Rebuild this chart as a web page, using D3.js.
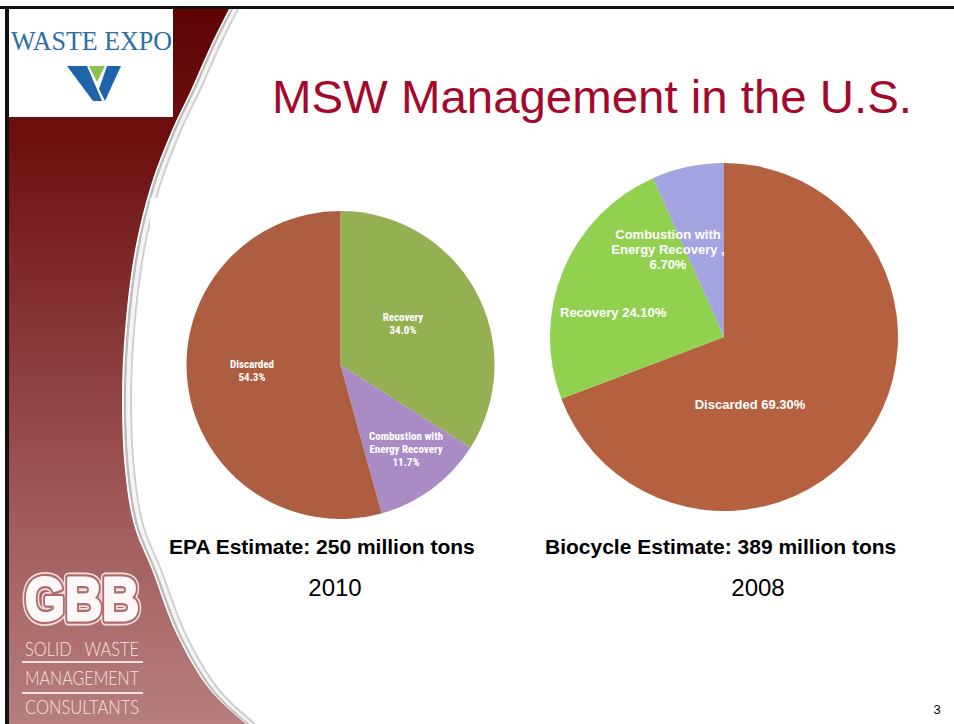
<!DOCTYPE html>
<html><head><meta charset="utf-8">
<script src="https://cdn.jsdelivr.net/npm/d3@7"></script>
<style>html,body{margin:0;padding:0;background:#fff;}svg{display:block;}</style>
</head><body>
<script>
// ---- data ----
const epaCategories = ["Recovery", "Combustion with Energy Recovery", "Discarded"];
const epaValues = [34.0, 11.7, 54.3];
const epaLabels = [["Recovery", "34.0%"], ["Combustion with", "Energy Recovery", "11.7%"], ["Discarded", "54.3%"]];
const bioCategories = ["Discarded", "Recovery", "Combustion with Energy Recovery"];
const bioValues = [69.3, 24.1, 6.7];
const bioLabels = [["Discarded 69.30%"], ["Recovery 24.10%"], ["Combustion with", "Energy Recovery ,", "6.70%"]];
const captions = ["EPA Estimate: 250 million tons", "Biocycle Estimate: 389 million tons"];
const years = ["2010", "2008"];
const title = "MSW Management in the U.S.";

// ---- layout / style ----
const W = 954, H = 724;
const svg = d3.select("body").append("svg").attr("width", W).attr("height", H);
const defs = svg.append("defs");
const grad = defs.append("linearGradient").attr("id", "band").attr("x1", 0).attr("y1", 0).attr("x2", 0).attr("y2", 1);
[[0, "#5e0404"], [0.18, "#6d0f0f"], [0.48, "#8a3a3a"], [0.72, "#a25c5c"], [1, "#b67e7e"]]
  .forEach(([o, c]) => grad.append("stop").attr("offset", o).attr("stop-color", c));
defs.append("clipPath").attr("id", "pageClip").append("rect").attr("x", 9).attr("y", 9).attr("width", W - 9).attr("height", H - 9);

svg.append("rect").attr("width", W).attr("height", H).attr("fill", "#fff");

// left decorative band
const edge = [[229, 9], [211, 45], [191, 90], [172, 130], [151, 185], [135, 250], [125, 330], [122, 400], [125, 470], [134, 525], [152, 570], [177, 635], [210, 690], [246, 724]];
const edgeLine = d3.line().curve(d3.curveCatmullRom);
const g0 = svg.append("g").attr("clip-path", "url(#pageClip)");
g0.append("path")
  .attr("d", "M9,9L" + edgeLine(edge).slice(1) + "L9,724Z")
  .attr("fill", "url(#band)");
[[3, "#bdbdbd", 2.5], [6, "#f4f4f4", 3], [9, "#cfcfcf", 2]].forEach(([dx, c, w]) => {
  g0.append("path").attr("d", edgeLine(edge.map(p => [p[0] + dx, p[1]])))
    .attr("fill", "none").attr("stroke", c).attr("stroke-width", w);
});
// white chart background rectangle covering part of the band highlight
svg.append("rect").attr("x", 150).attr("y", 198).attr("width", 360).attr("height", 339).attr("fill", "#fff");

// page border
svg.append("rect").attr("x", 0).attr("y", 6).attr("width", W).attr("height", 3).attr("fill", "#111");
svg.append("rect").attr("x", 5).attr("y", 6).attr("width", 4).attr("height", H - 6).attr("fill", "#111");

// Waste Expo logo
svg.append("rect").attr("x", 9).attr("y", 9).attr("width", 164).attr("height", 108).attr("fill", "#fff");
svg.append("text").attr("x", 11).attr("y", 50).attr("textLength", 161).attr("lengthAdjust", "spacingAndGlyphs")
  .attr("font-family", "'Liberation Serif','DejaVu Serif',serif").attr("font-size", 27).attr("fill", "#2c6ea6")
  .text("WASTE EXPO");
const wl = svg.append("g");
wl.append("polygon").attr("points", "67,66 87,66 102,101 93,101").attr("fill", "#1f64a8");
wl.append("polygon").attr("points", "89,66 105,66 97,82").attr("fill", "#8cc152");
wl.append("polygon").attr("points", "107,66 121,66 105,101 99,89").attr("fill", "#1f64a8");

// GBB logo
const gbb = svg.append("g");
const gbbText = (stroke, sw, fill) => gbb.append("text").attr("x", 25).attr("y", 620)
  .attr("textLength", 114).attr("lengthAdjust", "spacingAndGlyphs")
  .attr("font-family", "'Liberation Sans','DejaVu Sans',sans-serif").attr("font-weight", "bold").attr("font-size", 62)
  .attr("fill", fill).attr("stroke", stroke).attr("stroke-width", sw).attr("stroke-linejoin", "round").text("GBB");
gbbText("#f3dede", 11, "#f3dede");
gbbText("#ad6c6c", 7.5, "#ad6c6c");
gbbText("#fdf7f7", 3, "#fdf7f7");
const sub = [["SOLID   WASTE", 656], ["MANAGEMENT", 685], ["CONSULTANTS", 714]];
sub.forEach(([t, y]) => svg.append("text").attr("x", 25).attr("y", y).attr("textLength", 114).attr("lengthAdjust", "spacingAndGlyphs")
  .attr("font-family", "Lato,'Open Sans',sans-serif").attr("font-weight", 300).attr("font-size", 19)
  .attr("fill", "#f6e2dc").attr("xml:space", "preserve").style("white-space", "pre").text(t));
[662, 693].forEach(y => svg.append("line").attr("x1", 22).attr("x2", 143).attr("y1", y).attr("y2", y)
  .attr("stroke", "#f6e2dc").attr("stroke-width", 2));

// title
svg.append("text").attr("x", 272).attr("y", 113).attr("textLength", 640).attr("lengthAdjust", "spacingAndGlyphs")
  .attr("font-family", "'Liberation Sans',Arial,sans-serif").attr("font-size", 46).attr("fill", "#a3092b").text(title);

// ---- pies ----
const pie = d3.pie().sort(null).value(d => d);

// EPA pie
const epaColor = d3.scaleOrdinal().domain(epaCategories).range(["#94b052", "#a98cc4", "#ad5e40"]);
const epaR = 154;
const g1 = svg.append("g").attr("transform", "translate(340.5,365)");
const arc1 = d3.arc().innerRadius(0).outerRadius(epaR);
const epaArcs = pie(epaValues);
g1.selectAll("path").data(epaArcs).join("path").attr("d", arc1).attr("fill", (d, i) => epaColor(epaCategories[i]));
// label placement: [radius factor, dx, dy]
const epaLabelPos = [[0.5, -5, -7], [0.66, 5, -7], [0.58, 0, -9]];
const epaFont = "'Liberation Sans Narrow','Roboto Condensed',Roboto,sans-serif";
epaArcs.forEach((a, i) => {
  const [f, dx, dy] = epaLabelPos[i];
  const c = d3.arc().innerRadius(epaR * f).outerRadius(epaR * f).centroid(a);
  const t = g1.append("text").attr("text-anchor", "middle").attr("font-family", epaFont).attr("font-weight", "bold")
    .attr("font-size", 11).attr("fill", "#fff");
  epaLabels[i].forEach((line, k) => t.append("tspan").attr("x", c[0] + dx).attr("y", c[1] + dy + k * 13).text(line));
});

// Biocycle pie
const bioColor = d3.scaleOrdinal().domain(bioCategories).range(["#b5603f", "#92d050", "#a4a4e0"]);
const bioR = 174;
const g2 = svg.append("g").attr("transform", "translate(724,337)");
const arc2 = d3.arc().innerRadius(0).outerRadius(bioR);
const bioArcs = pie(bioValues);
g2.selectAll("path").data(bioArcs).join("path").attr("d", arc2).attr("fill", (d, i) => bioColor(bioCategories[i]));
// label placement: [x, y(first baseline), anchor] relative to pie centre
const bioLabelPos = [[26, 72, "middle"], [-164, -20, "start"], [-56, -98, "middle"]];
bioArcs.forEach((a, i) => {
  const [x, y, anchor] = bioLabelPos[i];
  const t = g2.append("text").attr("text-anchor", anchor).attr("font-family", "'Liberation Sans',Arial,sans-serif")
    .attr("font-weight", "bold").attr("font-size", 13).attr("fill", "#fff");
  bioLabels[i].forEach((line, k) => t.append("tspan").attr("x", x).attr("y", y + k * 15).text(line));
});

// captions
const capX = [169, 545];
captions.forEach((c, i) => svg.append("text").attr("x", capX[i]).attr("y", 554)
  .attr("font-family", "'Liberation Sans',Arial,sans-serif").attr("font-weight", "bold").attr("font-size", 21)
  .attr("fill", "#000").text(c));
const yearX = [335, 758];
years.forEach((y, i) => svg.append("text").attr("x", yearX[i]).attr("y", 596).attr("text-anchor", "middle")
  .attr("font-family", "'Liberation Sans',Arial,sans-serif").attr("font-size", 24).attr("fill", "#000").text(y));

// page number
svg.append("text").attr("x", 937).attr("y", 714).attr("text-anchor", "middle")
  .attr("font-family", "'Liberation Sans',Arial,sans-serif").attr("font-size", 13).attr("fill", "#000").text("3");
</script>
</body></html>
